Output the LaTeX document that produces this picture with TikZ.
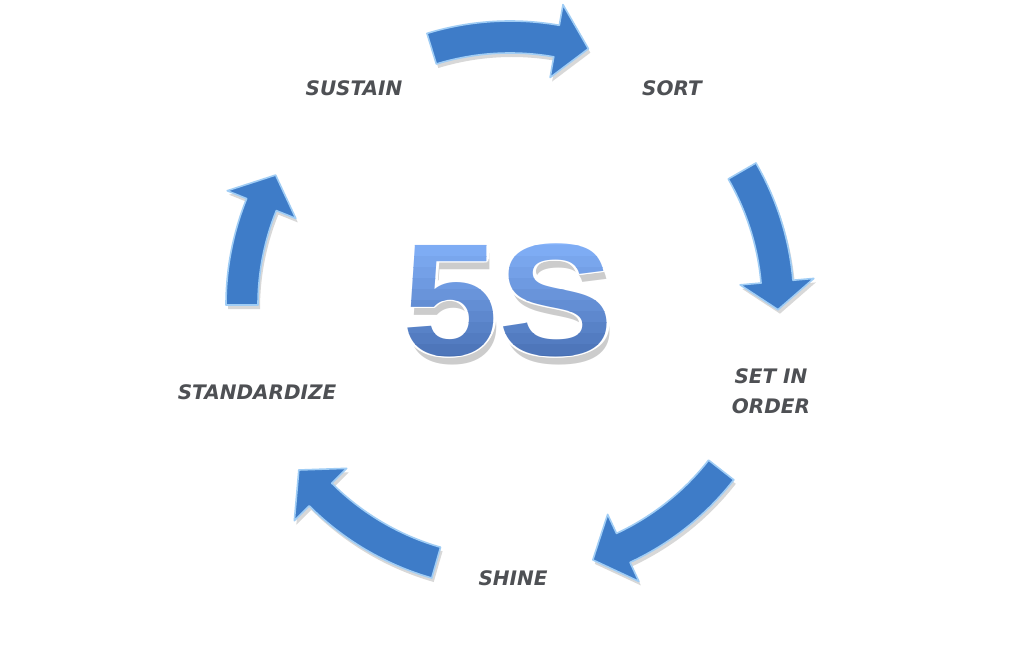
\documentclass[tikz,border=0pt]{standalone}
\usepackage{fontspec}
\usepackage{contour}
\usetikzlibrary{shadows}
\setmainfont{DejaVu Sans}
\newfontfamily\labelfont{DejaVu Sans}
\newfontfamily\bigfont[FakeStretch=1.08]{Liberation Sans}
\definecolor{arrowblue}{RGB}{62,124,200}
\definecolor{arrowedge}{RGB}{160,205,245}
\definecolor{labelgray}{RGB}{78,80,84}
\definecolor{topblue}{RGB}{132,178,250}
\definecolor{botblue}{RGB}{72,112,180}
\contourlength{3pt}
\contournumber{12}
\newcommand{\cyclearrow}[3]{%
  \path[arrowstyle] (#1:284pt) arc[start angle=#1,end angle=#2,radius=284pt]
    -- (#2:305pt) -- (#3:268pt) -- (#2:231pt) -- (#2:252pt)
    arc[start angle=#2,end angle=#1,radius=252pt] -- cycle;}
\newcommand{\bigtext}{\bigfont\bfseries\fontsize{160}{160}\selectfont}
\begin{document}
\begin{tikzpicture}[x=1pt,y=1pt,
  arrowstyle/.style={fill=arrowblue, draw=arrowedge, line width=1.6pt, line join=round,
    drop shadow={opacity=0.25, shadow xshift=2pt, shadow yshift=-4pt, fill=black!60}},
  steplabel/.style={font=\labelfont\bfseries\itshape\fontsize{20}{30}\selectfont,
    text=labelgray, inner sep=0pt, align=center},
  bigfive/.style={inner sep=0pt}]
\useasboundingbox (0,-660) rectangle (1024,0);
\fill[white] (0,-660) rectangle (1024,0);
\begin{scope}[shift={(510,-305)}]
  \cyclearrow{107}{80}{73}
  \cyclearrow{30}{5}{-1}
  \cyclearrow{-38}{-65}{-72}
  \cyclearrow{-106}{-135}{-142}
  \cyclearrow{180}{158}{151}
\end{scope}
% labels
\node[steplabel] (sustain) at (354,-88) {SUSTAIN};
\node[steplabel] (sort) at (672,-88) {SORT};
\node[steplabel] (setinorder) at (771,-391) {SET IN\\ORDER};
\node[steplabel] (shine) at (513,-578) {SHINE};
\node[steplabel] (standardize) at (257,-392) {STANDARDIZE};
% 5S: shadow, white outline, banded gradient
\node[bigfive, text=black, opacity=0.2] (fivesshadow) at (511,-308) {\bigtext 5S};
\node[bigfive, text=white] (fives) at (508,-300) {\bigtext\contour{white}{5S}};
\foreach \i in {0,...,11}{
  \pgfmathsetmacro{\mixval}{100-100*\i/11}
  \begin{scope}
    \clip (360,{-234-11*\i}) rectangle (660,{-234-11*(\i+1)-0.3});
    \node[bigfive, text=topblue!\mixval!botblue] (fivesband\i) at (508,-300) {\bigtext 5S};
  \end{scope}
}
\end{tikzpicture}
\end{document}
